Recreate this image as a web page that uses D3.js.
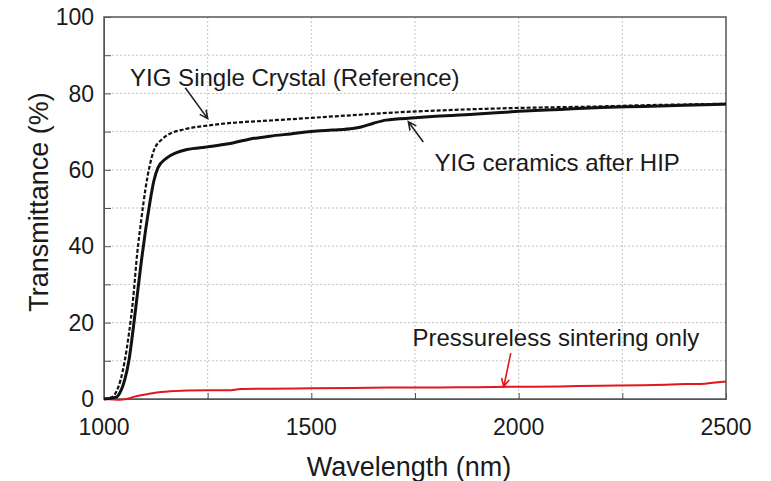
<!DOCTYPE html>
<html>
<head>
<meta charset="utf-8">
<script src="https://cdn.jsdelivr.net/npm/d3@7"></script>
<style>
  body { margin: 0; background: #fff; }
  text { font-family: Arial, "Liberation Sans", sans-serif; fill: #1a1a1a; }
</style>
</head>
<body>
<div id="chart"></div>
<script>
// wavelength (nm) / transmittance (%)
const crystalX = [1000, 1020, 1030, 1040, 1050, 1060, 1070, 1080, 1090, 1100, 1110, 1120, 1140, 1160, 1190, 1250, 1300, 1400, 1500, 1600, 1700, 1800, 1900, 2000, 2100, 2200, 2300, 2400, 2500];
const crystalY = [0, 0.5, 2, 5, 10, 17, 26, 38, 47, 55, 61, 65, 68, 69.5, 70.5, 71.6, 72.2, 72.9, 73.6, 74.3, 75, 75.5, 75.9, 76.2, 76.4, 76.6, 76.9, 77.1, 77.3];

const hipX = [1000, 1030, 1040, 1050, 1060, 1070, 1080, 1090, 1100, 1110, 1120, 1130, 1150, 1175, 1200, 1250, 1300, 1350, 1400, 1450, 1500, 1550, 1600, 1620, 1650, 1680, 1750, 1800, 1900, 2000, 2100, 2200, 2300, 2400, 2500];
const hipY = [0, 0.5, 2, 5, 10, 18, 27, 36, 44, 51, 57, 60.5, 63, 64.5, 65.3, 66, 66.8, 68, 68.8, 69.4, 70, 70.4, 70.8, 71.2, 72.2, 73, 73.6, 74, 74.6, 75.3, 75.8, 76.3, 76.6, 76.9, 77.2];

const plessX = [1000, 1040, 1080, 1120, 1160, 1200, 1250, 1300, 1330, 1400, 1500, 1600, 1700, 1800, 1900, 2000, 2100, 2200, 2300, 2400, 2450, 2480, 2500];
const plessY = [0, -0.2, 0.8, 1.6, 2.0, 2.2, 2.3, 2.3, 2.6, 2.7, 2.8, 2.9, 3.0, 3.0, 3.1, 3.2, 3.3, 3.5, 3.6, 3.9, 4.0, 4.4, 4.6];

const xTicks = [1000, 1500, 2000, 2500];
const yTicks = [0, 20, 40, 60, 80, 100];

const width = 771, height = 481;
const margin = { top: 17, right: 45, bottom: 82, left: 104 };

const svg = d3.select('#chart').append('svg')
  .attr('width', width)
  .attr('height', height);

const x = d3.scaleLinear().domain([1000, 2500]).range([margin.left, width - margin.right]);
const y = d3.scaleLinear().domain([0, 100]).range([height - margin.bottom, margin.top]);

// grid
const grid = svg.append('g').attr('stroke', '#c4c4c4').attr('stroke-width', 1).attr('stroke-dasharray', '2,2');
grid.selectAll('.gy').data(d3.range(10, 100, 10)).enter().append('line')
  .attr('x1', x(1000)).attr('x2', x(2500))
  .attr('y1', d => y(d)).attr('y2', d => y(d));
grid.selectAll('.gx').data(d3.range(1250, 2500, 250)).enter().append('line')
  .attr('y1', y(0)).attr('y2', y(100))
  .attr('x1', d => x(d)).attr('x2', d => x(d));

// axes (ticks inside)
svg.append('g')
  .attr('transform', `translate(${margin.left},0)`)
  .call(d3.axisLeft(y).tickValues(d3.range(0, 101, 10)).tickSize(-7).tickFormat(''))
  .call(g => g.selectAll('line,path').attr('stroke', '#555'));
svg.append('g')
  .attr('transform', `translate(0,${y(0)})`)
  .call(d3.axisBottom(x).tickValues(d3.range(1000, 2501, 250)).tickSize(-6).tickFormat(''))
  .call(g => g.selectAll('line,path').attr('stroke', '#555'));

svg.append('rect')
  .attr('x', x(1000)).attr('y', y(100))
  .attr('width', x(2500) - x(1000)).attr('height', y(0) - y(100))
  .attr('fill', 'none').attr('stroke', '#555').attr('stroke-width', 1.5);

svg.selectAll('.ytl').data(yTicks).enter().append('text')
  .attr('x', margin.left - 10)
  .attr('y', d => y(d))
  .attr('dy', '0.36em')
  .attr('text-anchor', 'end')
  .attr('font-size', 23)
  .text(d => d);

svg.selectAll('.xtl').data(xTicks).enter().append('text')
  .attr('x', d => x(d))
  .attr('y', y(0) + 36)
  .attr('text-anchor', 'middle')
  .attr('font-size', 23)
  .text(d => d);

svg.append('text')
  .attr('x', 409).attr('y', 476)
  .attr('text-anchor', 'middle')
  .attr('font-size', 27)
  .text('Wavelength (nm)');

svg.append('text')
  .attr('transform', 'translate(48,202) rotate(-90)')
  .attr('text-anchor', 'middle')
  .attr('font-size', 27)
  .text('Transmittance (%)');

// curves
const line = d3.line().x(d => x(d[0])).y(d => y(d[1])).curve(d3.curveMonotoneX);

svg.append('path')
  .datum(d3.zip(plessX, plessY))
  .attr('d', line)
  .attr('fill', 'none').attr('stroke', '#e3161e').attr('stroke-width', 2);

svg.append('path')
  .datum(d3.zip(hipX, hipY))
  .attr('d', line)
  .attr('fill', 'none').attr('stroke', '#111').attr('stroke-width', 3);

svg.append('path')
  .datum(d3.zip(crystalX, crystalY))
  .attr('d', line)
  .attr('fill', 'none').attr('stroke', '#111').attr('stroke-width', 2.2)
  .attr('stroke-dasharray', '4,2');

// annotations: text start, baseline, arrow from -> to (data units)
const notes = [
  { label: 'YIG Single Crystal (Reference)', x: 1063, y: 82, from: [1196, 81.5], to: [1250, 73.4], color: '#222' },
  { label: 'YIG ceramics after HIP', x: 1797, y: 59.7, from: [1770, 67.3], to: [1734, 72.6], color: '#222' },
  { label: 'Pressureless sintering only', x: 1744, y: 13.9, from: [1981, 12], to: [1964, 3.2], color: '#e3161e' }
];

notes.forEach(n => {
  svg.append('text')
    .attr('x', x(n.x)).attr('y', y(n.y))
    .attr('font-size', 24)
    .text(n.label);

  const x0 = x(n.from[0]), y0 = y(n.from[1]), x1 = x(n.to[0]), y1 = y(n.to[1]);
  const ang = Math.atan2(y1 - y0, x1 - x0);
  const head = 9, spread = 0.45;
  svg.append('path')
    .attr('d', `M${x0},${y0}L${x1},${y1}` +
      `M${x1 - head * Math.cos(ang - spread)},${y1 - head * Math.sin(ang - spread)}L${x1},${y1}` +
      `L${x1 - head * Math.cos(ang + spread)},${y1 - head * Math.sin(ang + spread)}`)
    .attr('fill', 'none')
    .attr('stroke', n.color)
    .attr('stroke-width', 1.6);
});
</script>
</body>
</html>
